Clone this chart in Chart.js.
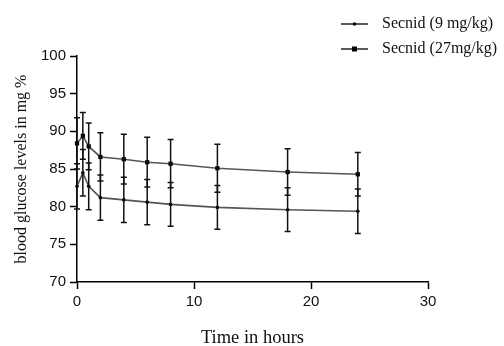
<!DOCTYPE html>
<html>
<head>
<meta charset="utf-8">
<script src="https://cdn.jsdelivr.net/npm/chart.js@4.4.1/dist/chart.umd.min.js"></script>
<style>
  html, body { margin: 0; padding: 0; background: #fff; }
  #wrap { width: 504px; height: 346px; }
</style>
</head>
<body>
<div id="wrap"><canvas id="glucoseChart"></canvas></div>
<script>
// time points (hours) and mean +/- SD
const hours = [0, 0.5, 1, 2, 4, 6, 8, 12, 18, 24];
const secnid9 = [82.7, 84.5, 82.7, 81.2, 80.9, 80.6, 80.3, 79.9, 79.6, 79.4];
const secnid9Sd = [3.0, 3.1, 3.1, 3.0, 3.0, 3.0, 2.9, 2.9, 2.9, 2.95];
const secnid27 = [88.4, 89.4, 88.0, 86.6, 86.3, 85.9, 85.7, 85.1, 84.6, 84.3];
const secnid27Sd = [3.4, 3.1, 3.1, 3.2, 3.3, 3.3, 3.2, 3.2, 3.1, 2.9];
const seriesLabels = ['Secnid (9 mg/kg)', 'Secnid (27mg/kg)'];
const xTicks = [0, 10, 20, 30];
const yTicks = [70, 75, 80, 85, 90, 95, 100];

const toPoints = (vals) => hours.map((h, i) => ({ x: h, y: vals[i] }));

// vertical error bars with caps, drawn through the y scale
const errorBars = {
    id: 'errorBars',
    afterDatasetsDraw(chart) {
        const ctx = chart.ctx;
        const y = chart.scales.y;
        ctx.save();
        ctx.strokeStyle = '#111';
        ctx.lineWidth = 1.5;
        chart.data.datasets.forEach((ds, di) => {
            const meta = chart.getDatasetMeta(di);
            meta.data.forEach((pt, i) => {
                const v = ds.data[i].y, sd = ds.sd[i];
                const top = y.getPixelForValue(v + sd);
                const bot = y.getPixelForValue(v - sd);
                ctx.beginPath();
                ctx.moveTo(pt.x, top); ctx.lineTo(pt.x, bot);
                ctx.moveTo(pt.x - 3, top); ctx.lineTo(pt.x + 3, top);
                ctx.moveTo(pt.x - 3, bot); ctx.lineTo(pt.x + 3, bot);
                ctx.stroke();
            });
        });
        ctx.restore();
    }
};

// legend in the top right corner: short line with the marker, then the label
const sideLegend = {
    id: 'sideLegend',
    afterDraw(chart) {
        const ctx = chart.ctx;
        ctx.save();
        ctx.font = '16px "Liberation Serif", "Times New Roman", serif';
        ctx.textBaseline = 'middle';
        chart.data.datasets.forEach((ds, i) => {
            const yy = 24 + i * 25;
            ctx.strokeStyle = '#222';
            ctx.lineWidth = 1.5;
            ctx.beginPath();
            ctx.moveTo(341, yy); ctx.lineTo(368, yy);
            ctx.stroke();
            ctx.fillStyle = '#000';
            if (ds.pointStyle === 'rect') {
                ctx.fillRect(352, yy - 2.5, 5, 5);
            } else {
                ctx.beginPath(); ctx.arc(354.5, yy, 1.8, 0, Math.PI * 2); ctx.fill();
            }
            ctx.fillStyle = '#111';
            ctx.fillText(ds.label, 382, yy);
        });
        ctx.restore();
    }
};

const ctx = document.getElementById('glucoseChart').getContext('2d');
const chart = new Chart(ctx, {
    type: 'line',
    data: {
        datasets: [
            {
                label: seriesLabels[0],
                data: toPoints(secnid9),
                sd: secnid9Sd,
                borderColor: '#555',
                borderWidth: 1.6,
                pointStyle: 'circle',
                pointRadius: 1.8,
                pointBackgroundColor: '#000',
                pointBorderWidth: 0,
                fill: false,
                tension: 0,
                clip: false
            },
            {
                label: seriesLabels[1],
                data: toPoints(secnid27),
                sd: secnid27Sd,
                borderColor: '#555',
                borderWidth: 1.6,
                pointStyle: 'rect',
                pointRadius: 3,
                pointBackgroundColor: '#000',
                pointBorderWidth: 0,
                fill: false,
                tension: 0,
                clip: false
            }
        ]
    },
    options: {
        responsive: true,
        maintainAspectRatio: false,
        animation: false,
        layout: { padding: { top: 56, right: 76, bottom: 0, left: 0 } },
        plugins: {
            legend: { display: false },
            tooltip: { enabled: false }
        },
        scales: {
            x: {
                type: 'linear',
                min: 0,
                max: 30,
                afterBuildTicks: (s) => { s.ticks = xTicks.map(v => ({ value: v })); },
                afterFit: (s) => { s.height = 64; },
                ticks: {
                    color: '#111',
                    padding: 4,
                    font: { family: '"Liberation Sans", Arial, sans-serif', size: 15 }
                },
                grid: { drawOnChartArea: false, drawTicks: true, tickLength: 7, tickColor: '#000', tickWidth: 1.5 },
                border: { display: true, color: '#000', width: 1.5 },
                title: {
                    display: true,
                    text: 'Time in hours',
                    color: '#111',
                    padding: { top: 0, bottom: 0 },
                    font: { family: '"Liberation Serif", "Times New Roman", serif', size: 18.5, lineHeight: 0.8 }
                }
            },
            y: {
                min: 70,
                max: 100,
                afterBuildTicks: (s) => { s.ticks = yTicks.map(v => ({ value: v })); },
                afterFit: (s) => { s.width = 77; },
                ticks: {
                    color: '#111',
                    padding: 4,
                    font: { family: '"Liberation Sans", Arial, sans-serif', size: 15 }
                },
                grid: { drawOnChartArea: false, drawTicks: true, tickLength: 7, tickColor: '#000', tickWidth: 1.5 },
                border: { display: true, color: '#000', width: 1.5 },
                title: {
                    display: true,
                    text: 'blood glucose levels in mg %',
                    color: '#111',
                    padding: { top: 12, bottom: 0 },
                    font: { family: '"Liberation Serif", "Times New Roman", serif', size: 16 }
                }
            }
        }
    },
    plugins: [errorBars, sideLegend]
});
</script>
</body>
</html>
